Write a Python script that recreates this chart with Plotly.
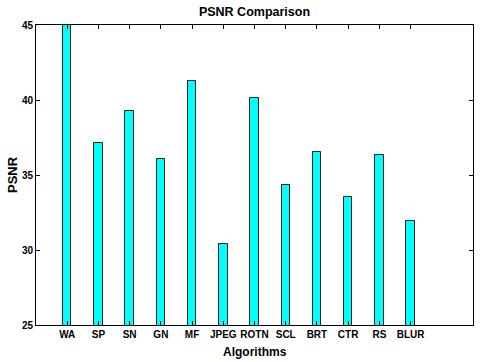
import plotly.graph_objects as go

algorithms = ["WA", "SP", "SN", "GN", "MF", "JPEG", "ROTN", "SCL", "BRT", "CTR", "RS", "BLUR"]
psnr = [45.3, 37.15, 39.27, 36.05, 41.25, 30.38, 40.13, 34.33, 36.51, 33.53, 36.31, 31.93]
positions = list(range(1, len(algorithms) + 1))
y_ticks = [25, 30, 35, 40, 45]

font_family = "Liberation Sans, Arial, sans-serif"
W, H = 480, 362
L, R, T, B = 36, 7, 25, 37

fig = go.Figure()
fig.add_trace(go.Bar(
    x=positions,
    y=psnr,
    width=0.27,
    marker=dict(color="#00FFFF", line=dict(color="#222222", width=1)),
))

fig.update_layout(
    width=W,
    height=H,
    margin=dict(l=L, r=R, t=T, b=B, autoexpand=False),
    plot_bgcolor="white",
    paper_bgcolor="white",
    showlegend=False,
    title=dict(
        text="PSNR Comparison",
        x=(L + W - R) / 2 / W,
        xanchor="center",
        y=1 - 12 / H,
        yanchor="middle",
        font=dict(family=font_family, size=12.5, color="black", weight="bold"),
    ),
    bargap=0,
)

common = dict(
    ticks="inside",
    ticklen=4,
    tickcolor="black",
    showline=True,
    linecolor="black",
    linewidth=1,
    mirror="allticks",
    showgrid=False,
    zeroline=False,
    automargin=False,
    tickfont=dict(family=font_family, size=10, color="black", weight="bold"),
)

fig.update_xaxes(range=[0, 14], tickmode="array", tickvals=positions,
                 ticktext=algorithms, **common)
fig.update_yaxes(range=[25, 45], tickmode="array", tickvals=y_ticks, **common)

# axis titles placed as annotations
fig.add_annotation(
    text="Algorithms", xref="paper", yref="paper",
    x=0.5, y=-(352 - (H - B)) / (H - T - B), xanchor="center", yanchor="middle",
    showarrow=False,
    font=dict(family=font_family, size=12, color="black", weight="bold"),
)
fig.add_annotation(
    text="PSNR", xref="paper", yref="paper",
    x=-(L - 12) / (W - L - R), y=(H - B - 175) / (H - T - B),
    xanchor="center", yanchor="middle", textangle=-90,
    showarrow=False,
    font=dict(family=font_family, size=13, color="black", weight="bold"),
)

fig.write_html("out.html", config={"displayModeBar": False},
               post_script="document.body.style.margin='0';")
